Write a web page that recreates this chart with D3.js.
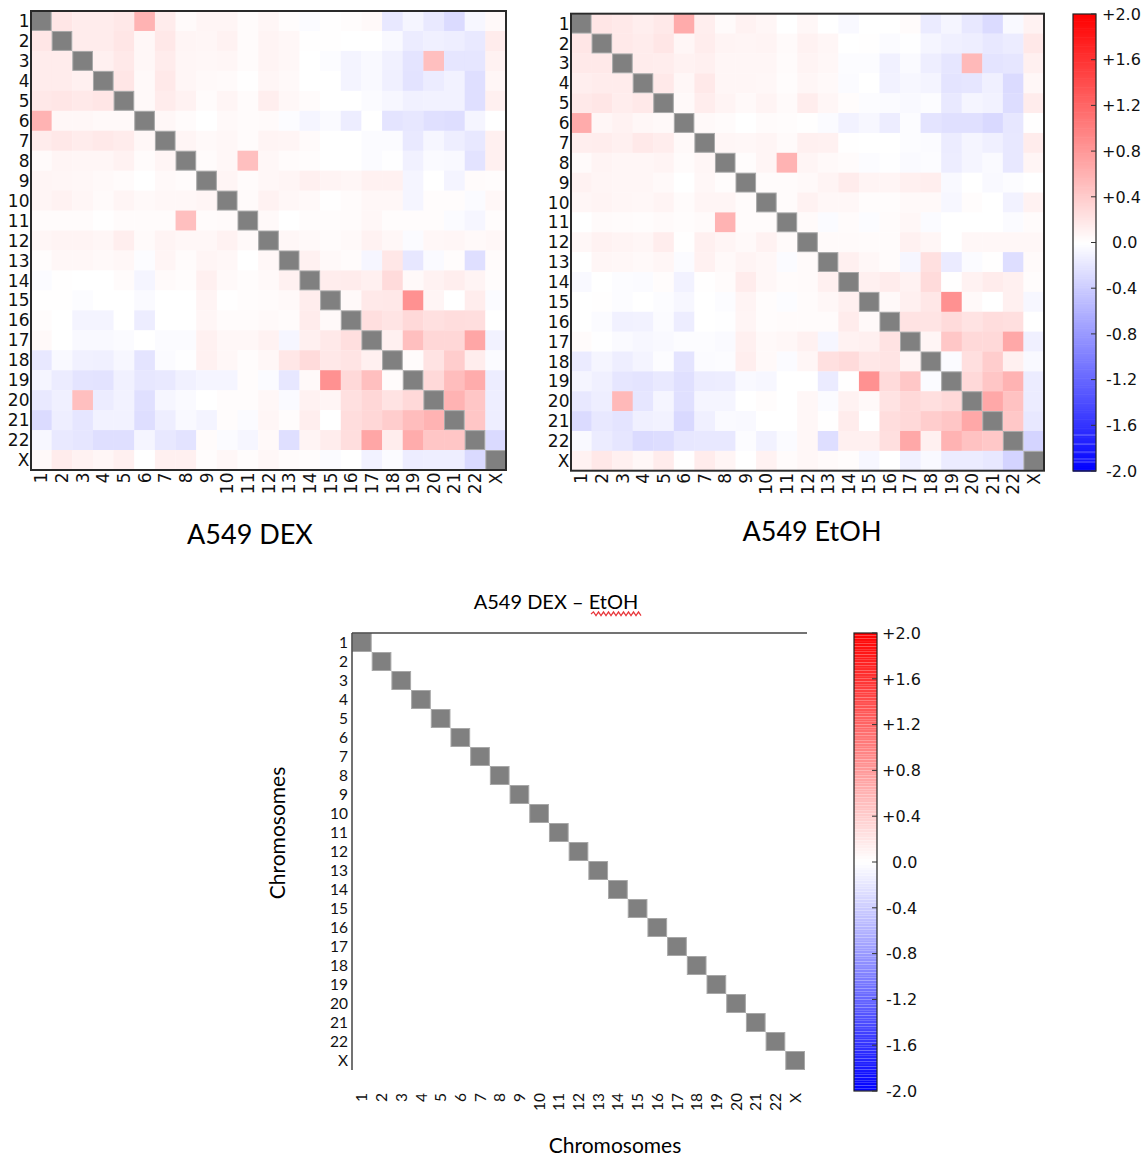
<!DOCTYPE html>
<html><head><meta charset="utf-8">
<script src="https://cdn.jsdelivr.net/npm/d3@7"></script>
<style>body{margin:0;background:#fff}</style>
</head><body>
<svg id="chart" width="1145" height="1158"></svg>
<script>
const chromosomes = ["1","2","3","4","5","6","7","8","9","10","11","12","13","14","15","16","17","18","19","20","21","22","X"];

// lower triangles: row k lists columns 1..k (row 2 first)
const dexLower = [
 [0.2],
 [0.15,0.15],
 [0.15,0.15,0.12],
 [0.18,0.2,0.17,0.2],
 [0.6,0.06,0.06,0.05,0.05],
 [0.15,0.18,0.15,0.17,0.15,0.06],
 [0.04,0.08,0.07,0.07,0.1,0.03,0.08],
 [0.08,0.07,0.06,0.05,0.03,0.0,0.05,0.03],
 [0.08,0.1,0.07,0.04,0.08,0.05,0.06,0.06,0.08],
 [0.03,0.03,0.03,0.01,0.03,0.03,0.03,0.5,0.03,0.04],
 [0.07,0.09,0.09,0.07,0.13,0.04,0.09,0.06,0.06,0.1,0.05],
 [0.02,0.06,0.06,0.05,0.06,-0.02,0.08,0.03,0.08,0.06,0.0,0.06],
 [-0.03,0.01,0.0,0.0,0.03,-0.08,0.04,0.02,0.12,0.05,0.02,0.05,0.11],
 [0.01,0.01,-0.02,0.0,0.0,-0.04,0.0,0.0,0.09,0.01,0.02,0.03,0.05,0.14],
 [0.02,0.0,-0.09,-0.09,0.0,-0.14,0.0,0.0,0.07,0.03,0.03,0.05,0.03,0.15,0.05],
 [0.05,0.0,-0.05,-0.05,-0.03,0.0,-0.03,-0.03,0.11,0.06,0.06,0.1,-0.07,0.12,0.17,0.25],
 [-0.18,-0.05,-0.11,-0.12,-0.06,-0.21,-0.03,-0.01,0.11,0.06,0.02,0.06,0.19,0.28,0.18,0.21,0.12],
 [-0.08,-0.15,-0.21,-0.22,-0.11,-0.19,-0.17,-0.11,-0.08,-0.08,0.02,-0.03,-0.19,0.05,0.86,0.3,0.5,0.03],
 [-0.17,-0.12,0.5,-0.15,-0.1,-0.24,-0.07,-0.04,0.0,0.02,0.02,0.06,-0.04,0.1,0.08,0.24,0.31,0.22,0.3],
 [-0.28,-0.13,-0.2,-0.1,-0.1,-0.26,-0.13,-0.05,-0.09,0.02,-0.03,0.07,0.02,0.13,0.0,0.27,0.31,0.39,0.52,0.6],
 [-0.06,-0.17,-0.2,-0.25,-0.25,-0.08,-0.18,-0.22,0.03,-0.03,-0.07,0.05,-0.25,0.09,0.14,0.26,0.7,0.14,0.65,0.45,0.45],
 [0.05,0.15,0.1,0.07,0.12,0.0,0.12,0.12,0.02,0.06,0.02,0.06,0.03,0.02,-0.03,0.0,-0.1,-0.03,-0.14,-0.13,-0.13,-0.29]
];

const etohLower = [
 [0.2],
 [0.17,0.17],
 [0.13,0.15,0.15],
 [0.17,0.2,0.14,0.17],
 [0.66,0.07,0.1,0.06,0.05],
 [0.13,0.14,0.12,0.17,0.14,0.05],
 [0.04,0.09,0.07,0.07,0.09,0.03,0.07],
 [0.1,0.08,0.07,0.07,0.05,0.0,0.06,0.02],
 [0.07,0.09,0.07,0.06,0.09,0.03,0.08,0.08,0.03],
 [0.0,0.04,0.03,0.02,0.04,0.02,0.04,0.6,0.03,0.03],
 [0.06,0.1,0.09,0.07,0.14,0.01,0.12,0.08,0.05,0.1,0.04],
 [0.0,0.07,0.06,0.05,0.07,-0.03,0.11,0.05,0.09,0.06,-0.03,0.04],
 [-0.05,0.0,-0.02,-0.03,0.02,-0.1,0.01,0.03,0.15,0.06,0.03,0.04,0.12],
 [0.0,0.01,-0.02,0.0,-0.02,-0.06,0.0,-0.02,0.09,0.02,-0.02,0.03,0.06,0.12],
 [0.0,-0.03,-0.11,-0.1,-0.03,-0.14,0.0,-0.01,0.08,0.02,0.03,0.03,0.03,0.15,0.05],
 [0.03,-0.01,-0.04,-0.06,-0.05,-0.02,-0.02,-0.04,0.12,0.05,0.06,0.11,-0.07,0.1,0.12,0.22],
 [-0.16,-0.08,-0.13,-0.09,-0.02,-0.21,-0.03,-0.02,0.13,0.05,-0.03,0.07,0.24,0.28,0.19,0.21,0.08],
 [-0.08,-0.12,-0.2,-0.21,-0.17,-0.24,-0.15,-0.14,-0.05,-0.06,0.0,0.0,-0.16,0.01,0.86,0.28,0.44,-0.03],
 [-0.18,-0.13,0.55,-0.2,-0.08,-0.24,-0.08,-0.08,0.0,0.02,0.0,0.06,-0.03,0.1,0.05,0.22,0.3,0.25,0.3],
 [-0.28,-0.18,-0.21,-0.12,-0.1,-0.3,-0.12,-0.04,-0.05,0.0,0.0,0.06,0.01,0.15,0.0,0.27,0.3,0.39,0.45,0.68],
 [-0.05,-0.15,-0.2,-0.28,-0.27,-0.19,-0.18,-0.18,-0.02,-0.1,-0.03,0.06,-0.26,0.12,0.12,0.25,0.68,0.12,0.6,0.48,0.43],
 [0.1,0.18,0.12,0.06,0.15,0.01,0.15,0.08,0.0,0.1,0.03,0.06,0.04,0.02,-0.06,0.0,-0.12,-0.05,-0.15,-0.15,-0.18,-0.34]
];

// difference panel: reads as zero everywhere in the reference
const diffLower = [
 [0],
 [0,0],
 [0,0,0],
 [0,0,0,0],
 [0,0,0,0,0],
 [0,0,0,0,0,0],
 [0,0,0,0,0,0,0],
 [0,0,0,0,0,0,0,0],
 [0,0,0,0,0,0,0,0,0],
 [0,0,0,0,0,0,0,0,0,0],
 [0,0,0,0,0,0,0,0,0,0,0],
 [0,0,0,0,0,0,0,0,0,0,0,0],
 [0,0,0,0,0,0,0,0,0,0,0,0,0],
 [0,0,0,0,0,0,0,0,0,0,0,0,0,0],
 [0,0,0,0,0,0,0,0,0,0,0,0,0,0,0],
 [0,0,0,0,0,0,0,0,0,0,0,0,0,0,0,0],
 [0,0,0,0,0,0,0,0,0,0,0,0,0,0,0,0,0],
 [0,0,0,0,0,0,0,0,0,0,0,0,0,0,0,0,0,0],
 [0,0,0,0,0,0,0,0,0,0,0,0,0,0,0,0,0,0,0],
 [0,0,0,0,0,0,0,0,0,0,0,0,0,0,0,0,0,0,0,0],
 [0,0,0,0,0,0,0,0,0,0,0,0,0,0,0,0,0,0,0,0,0],
 [0,0,0,0,0,0,0,0,0,0,0,0,0,0,0,0,0,0,0,0,0,0]
];

const colorbarTicks = [2.0,1.6,1.2,0.8,0.4,0.0,-0.4,-0.8,-1.2,-1.6,-2.0];
const colorbarArtifacts = [-1.685,-1.764,-1.834,-1.895,-1.921];
const panelTitles = ["A549 DEX","A549 EtOH"];
const diffTitle = "A549 DEX \u2013 EtOH";
const axisTitle = "Chromosomes";

const svg = d3.select("#chart");
const color = d3.scaleLinear().domain([-2,0,2]).range(["#0000ff","#ffffff","#ff0000"]).clamp(true);

function buildMatrix(lower){
  const n = chromosomes.length;
  const m = Array.from({length:n},()=>Array(n).fill(null));
  lower.forEach((row,k)=>{ const i=k+1; row.forEach((v,j)=>{ m[i][j]=v; m[j][i]=v; }); });
  const cells=[];
  for(let i=0;i<n;i++) for(let j=0;j<n;j++) cells.push({r:chromosomes[i], c:chromosomes[j], v:m[i][j], diag:i===j});
  return cells;
}

function fmt(v){ if(Math.abs(v)<1e-9) return "0.0"; return (v>0?"+":"-")+Math.abs(v).toFixed(1); }

function heatmap(g, lower, x0, x1, y0, y1, opts){
  const xs = d3.scaleBand().domain(chromosomes).range([x0,x1]);
  const ys = d3.scaleBand().domain(chromosomes).range([y0,y1]);
  const cells = buildMatrix(lower);
  g.append("g").selectAll("rect").data(cells.filter(d=>!d.diag)).join("rect")
    .attr("x",d=>xs(d.c)).attr("y",d=>ys(d.r))
    .attr("width",xs.bandwidth()+0.3).attr("height",ys.bandwidth()+0.3)
    .attr("fill",d=>color(d.v));
  g.append("g").selectAll("rect").data(cells.filter(d=>d.diag)).join("rect")
    .attr("x",d=>xs(d.c)+0.5).attr("y",d=>ys(d.r)+0.5)
    .attr("width",xs.bandwidth()-1).attr("height",ys.bandwidth()-1)
    .attr("fill","#808080").attr("stroke","#a8a8a8").attr("stroke-width",1);
  g.append("g").selectAll("text").data(chromosomes).join("text")
    .attr("x",opts.yLabelX).attr("y",d=>ys(d)+ys.bandwidth()/2)
    .attr("dy","0.36em").attr("text-anchor","end")
    .style("font-family",opts.font).style("font-size",opts.fontSize+"px").attr("fill","#111")
    .text(d=>d);
  g.append("g").selectAll("text").data(chromosomes).join("text")
    .attr("transform",d=>`translate(${xs(d)+xs.bandwidth()/2},${opts.xLabelY}) rotate(-90)`)
    .attr("dy","0.36em").attr("text-anchor","end")
    .style("font-family",opts.font).style("font-size",opts.fontSize+"px").attr("fill","#111")
    .text(d=>d);
  return {xs,ys};
}

function colorbar(g, x0, x1, y0, y1, opts){
  const ys = d3.scaleLinear().domain([-2,2]).range([y1,y0]);
  const bands = d3.range(opts.bands).map(i=>-2 + 4*(i+0.5)/opts.bands);
  const bh = (y1-y0)/opts.bands;
  g.append("g").selectAll("rect").data(bands).join("rect")
    .attr("x",x0).attr("width",x1-x0)
    .attr("y",d=>ys(d)-bh/2).attr("height",bh+opts.overlap)
    .attr("fill",d=>color(d));
  if(opts.artifacts){
    g.append("g").selectAll("line").data(opts.artifacts).join("line")
      .attr("x1",x0).attr("x2",x1).attr("y1",d=>ys(d)).attr("y2",d=>ys(d))
      .attr("stroke","#ffffff").attr("stroke-opacity",0.35).attr("stroke-width",1);
  }
  g.append("rect").attr("x",x0).attr("y",y0).attr("width",x1-x0).attr("height",y1-y0)
    .attr("fill","none").attr("stroke","#222").attr("stroke-width",1.2);
  g.append("g").selectAll("line").data(colorbarTicks).join("line")
    .attr("x1",x1-5).attr("x2",x1).attr("y1",d=>ys(d)).attr("y2",d=>ys(d))
    .attr("stroke","#333").attr("stroke-width",1);
  g.append("g").selectAll("text").data(colorbarTicks).join("text")
    .attr("x",d=>opts.labelX + (Math.abs(d)<1e-9?10:(d<0?4:0)))
    .attr("y",d=>ys(d)).attr("dy","0.36em")
    .style("font-family","DejaVu Sans").style("font-size",opts.fontSize+"px").attr("fill","#111")
    .text(d=>fmt(d));
}

// ---- top-left: DEX
const gL = svg.append("g");
heatmap(gL, dexLower, 31, 506, 11, 470, {yLabelX:29.5, xLabelY:472.5, font:"DejaVu Sans", fontSize:17});
gL.append("rect").attr("x",31).attr("y",11).attr("width",475).attr("height",459)
  .attr("fill","none").attr("stroke","#2a2a2a").attr("stroke-width",2);
// ---- top-right: EtOH
const gR = svg.append("g");
heatmap(gR, etohLower, 571, 1044, 13.7, 470.7, {yLabelX:569.5, xLabelY:473, font:"DejaVu Sans", fontSize:17});
gR.append("rect").attr("x",571).attr("y",13.7).attr("width",473).attr("height",457)
  .attr("fill","none").attr("stroke","#2a2a2a").attr("stroke-width",2);

// top colorbar
colorbar(svg.append("g"), 1073, 1096, 14, 471, {labelX:1102, fontSize:16, bands:256, overlap:0.6, artifacts:colorbarArtifacts});

// captions
svg.append("text").attr("x",250).attr("y",544).attr("text-anchor","middle")
  .style("font-family","Lato").style("font-size","27px").attr("fill","#000").text(panelTitles[0]);
svg.append("text").attr("x",812).attr("y",541).attr("text-anchor","middle")
  .style("font-family","Lato").style("font-size","27px").attr("fill","#000").text(panelTitles[1]);

// ---- bottom: difference
const gB = svg.append("g");
heatmap(gB, diffLower, 352, 805, 633, 1070, {yLabelX:348, xLabelY:1093, font:"Lato", fontSize:15.5});
gB.append("line").attr("x1",352).attr("x2",807).attr("y1",633).attr("y2",633).attr("stroke","#444").attr("stroke-width",1.5);
gB.append("line").attr("x1",352).attr("x2",352).attr("y1",633).attr("y2",1070).attr("stroke","#444").attr("stroke-width",1.5);

colorbar(svg.append("g"), 854, 877, 633, 1091, {labelX:882, fontSize:16, bands:170, overlap:-0.12});

// titles
svg.append("text").attr("x",556).attr("y",609).attr("text-anchor","middle")
  .style("font-family","Lato").style("font-size","20px").attr("fill","#000").text(diffTitle);
// spell-check wavy underline under "EtOH"
(function(){
  let d = "M591,614"; let up=true;
  for(let x=593.5; x<=641; x+=2.5){ d += ` L${x},${up?611.8:615.6}`; up=!up; }
  svg.append("path").attr("d",d).attr("fill","none").attr("stroke","#e8353a").attr("stroke-width",1.2);
})();

svg.append("text").attr("x",615).attr("y",1153).attr("text-anchor","middle")
  .style("font-family","Lato").style("font-size","21px").attr("fill","#000").text(axisTitle);
svg.append("text").attr("transform","translate(285,833) rotate(-90)").attr("text-anchor","middle")
  .style("font-family","Lato").style("font-size","21px").attr("fill","#000").text(axisTitle);
</script>
</body></html>
